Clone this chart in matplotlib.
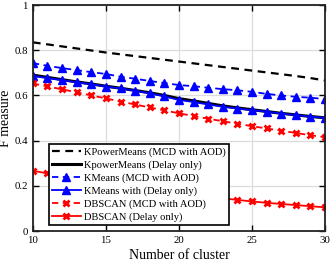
import matplotlib
matplotlib.use("Agg")
import matplotlib.pyplot as plt

clusters = list(range(10, 31))

kpower_aod = [0.835, 0.826, 0.817, 0.808, 0.799, 0.790, 0.782, 0.774, 0.766,
              0.758, 0.750, 0.742, 0.734, 0.726, 0.718, 0.710, 0.702, 0.694,
              0.686, 0.677, 0.666]
kpower_delay = [0.690, 0.680, 0.670, 0.660, 0.651, 0.641, 0.632, 0.622, 0.612,
                0.600, 0.586, 0.576, 0.565, 0.554, 0.545, 0.537, 0.529, 0.521,
                0.514, 0.507, 0.501]
kmeans_aod = [0.743, 0.731, 0.721, 0.712, 0.703, 0.695, 0.683, 0.674, 0.664,
              0.655, 0.646, 0.641, 0.634, 0.628, 0.623, 0.616, 0.607, 0.600,
              0.594, 0.590, 0.584]
kmeans_delay = [0.686, 0.677, 0.668, 0.658, 0.650, 0.639, 0.631, 0.621, 0.609,
                0.596, 0.580, 0.571, 0.560, 0.550, 0.542, 0.535, 0.528, 0.520,
                0.513, 0.506, 0.501]
dbscan_aod = [0.653, 0.640, 0.627, 0.614, 0.600, 0.587, 0.573, 0.560, 0.547,
              0.534, 0.521, 0.509, 0.497, 0.486, 0.475, 0.464, 0.454, 0.444,
              0.434, 0.424, 0.415]
dbscan_delay = [0.267, 0.255, 0.243, 0.232, 0.221, 0.211, 0.201, 0.192, 0.183,
                0.175, 0.167, 0.159, 0.152, 0.145, 0.138, 0.131, 0.125, 0.120,
                0.115, 0.110, 0.105]

labels = ["KPowerMeans (MCD with AOD)", "KpowerMeans (Delay only)",
          "KMeans (MCD with AOD)", "KMeans with (Delay only)",
          "DBSCAN (MCD with AOD)", "DBSCAN (Delay only)"]

plt.rcParams["font.family"] = ["Liberation Serif", "DejaVu Serif"]


def main():
    fig = plt.figure(figsize=(3.32, 2.65), dpi=100)
    ax = fig.add_axes([0.099, 0.128, 0.880, 0.853])

    ax.plot(clusters, kpower_aod, color="black", linestyle="--", linewidth=1.6,
            dashes=(3.5, 2.5), label=labels[0])
    ax.plot(clusters, kpower_delay, color="black", linestyle="-", linewidth=2.2,
            label=labels[1])
    ax.plot(clusters, kmeans_aod, color="blue", linestyle="--", linewidth=1.3,
            marker="^", markersize=6, dashes=(3.5, 2.5), label=labels[2])
    ax.plot(clusters, kmeans_delay, color="blue", linestyle="-", linewidth=1.3,
            marker="^", markersize=6, label=labels[3])
    ax.plot(clusters, dbscan_aod, color="red", linestyle="--", linewidth=1.3,
            marker="x", markersize=4.5, markeredgewidth=2, dashes=(3.5, 2.5),
            label=labels[4])
    ax.plot(clusters, dbscan_delay, color="red", linestyle="-", linewidth=1.3,
            marker="x", markersize=4.5, markeredgewidth=2, label=labels[5])

    ax.set_xlim(10, 30)
    ax.set_ylim(0, 1)
    ax.set_xticks([10, 15, 20, 25, 30])
    ax.set_yticks([0, 0.2, 0.4, 0.6, 0.8, 1])
    ax.set_yticklabels(["0", "0.2", "0.4", "0.6", "0.8", "1"])
    ax.grid(True, color="#dcdcdc", linewidth=0.9)
    ax.set_axisbelow(True)
    ax.tick_params(direction="in", top=True, right=True, labelsize=7.8,
                   length=4, width=1, pad=3.5)
    for spine in ax.spines.values():
        spine.set_linewidth(1.3)
        spine.set_color("#222222")

    ax.set_xlabel("Number of cluster", fontsize=10, labelpad=3)
    ax.set_ylabel("F measure", fontsize=10)
    ax.yaxis.set_label_coords(-0.072, 0.5)

    leg = ax.legend(loc="upper left", bbox_to_anchor=(0.055, 0.385),
                    fontsize=7.6, numpoints=1, handlelength=2.7,
                    handletextpad=0.35, borderpad=0.3, labelspacing=0.32,
                    borderaxespad=0, fancybox=False, framealpha=1)
    leg.get_frame().set_edgecolor("black")
    leg.get_frame().set_linewidth(1.2)

    plt.savefig("out.png", dpi=100)


if __name__ == "__main__":
    main()
